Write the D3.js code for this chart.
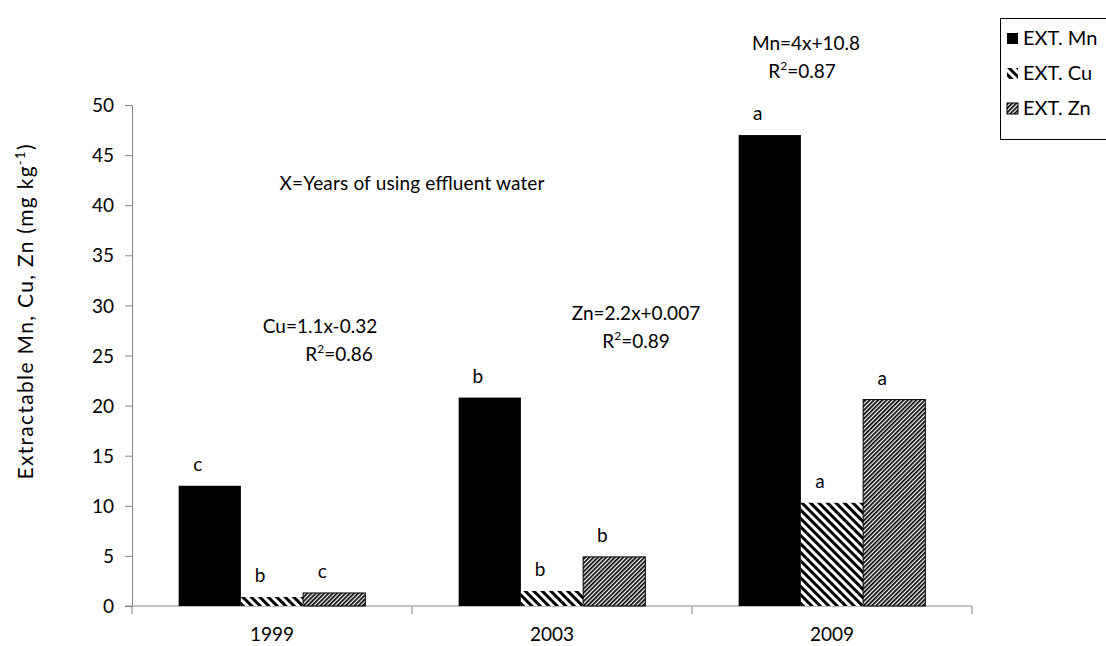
<!DOCTYPE html>
<html><head><meta charset="utf-8">
<script src="https://cdn.jsdelivr.net/npm/d3@7"></script>
<style>body{margin:0;background:#fff}text{font-family:Lato,"Open Sans",sans-serif;fill:#000}</style>
</head><body>
<svg id="c" width="1106" height="646"></svg>
<script>
const years = ["1999","2003","2009"];
const series = ["Mn","Cu","Zn"];
const mnValues = [12, 20.8, 47];
const cuValues = [0.9, 1.5, 10.3];
const znValues = [1.3, 4.9, 20.6];
const mnLetters = ["c","b","a"];
const cuLetters = ["b","b","a"];
const znLetters = ["c","b","a"];
const yTicks = [0,5,10,15,20,25,30,35,40,45,50];
const legendLabels = ["EXT. Mn","EXT.  Cu","EXT. Zn"];

const FS = 19;
const svg = d3.select("#c");
const defs = svg.append("defs");
const pCu = defs.append("pattern").attr("id","pCu").attr("patternUnits","userSpaceOnUse")
  .attr("width",6).attr("height",6).attr("patternTransform","rotate(-45)");
pCu.append("rect").attr("width",6).attr("height",6).attr("fill","#fff");
pCu.append("rect").attr("x",0).attr("width",3).attr("height",6).attr("fill","#000");
const pZn = defs.append("pattern").attr("id","pZn").attr("patternUnits","userSpaceOnUse")
  .attr("width",3).attr("height",3).attr("patternTransform","rotate(45)");
pZn.append("rect").attr("width",3).attr("height",3).attr("fill","#fff");
pZn.append("rect").attr("x",0).attr("width",1.7).attr("height",3).attr("fill","#000");

const fills = {Mn:"#000", Cu:"url(#pCu)", Zn:"url(#pZn)"};
const strokes = {Mn:"none", Cu:"none", Zn:"#000"};

const x0 = d3.scaleBand().domain(years).range([132,972]).paddingInner(0).paddingOuter(0);
const y = d3.scaleLinear().domain([0,50]).range([606,105]);
const bw = x0.bandwidth()/(3+1.5);
const x1 = d3.scaleBand().domain(series).range([0,bw*3]);

const data = [];
years.forEach((yr,i)=>{
  data.push({yr,s:"Mn",v:mnValues[i],l:mnLetters[i]});
  data.push({yr,s:"Cu",v:cuValues[i],l:cuLetters[i]});
  data.push({yr,s:"Zn",v:znValues[i],l:znLetters[i]});
});
const gOff = (x0.bandwidth()-bw*3)/2;

const axisColor = "#868686";
const yAxis = svg.append("g").attr("transform","translate(132,0)")
  .call(d3.axisLeft(y).tickValues(yTicks).tickSize(7).tickSizeOuter(0));
yAxis.select(".domain").attr("stroke",axisColor);
yAxis.selectAll("line").attr("stroke",axisColor);
yAxis.selectAll("text").attr("font-size",FS).attr("x",-18).attr("dy","0.35em").style("font-family","Lato,sans-serif");

const xAxis = svg.append("g").attr("transform","translate(0,606)");
xAxis.append("line").attr("x1",125).attr("x2",972).attr("stroke",axisColor);
const bounds = [132].concat(years.map(yr=>x0(yr)+x0.bandwidth()));
xAxis.selectAll("line.t").data(bounds).enter().append("line")
  .attr("x1",d=>d).attr("x2",d=>d).attr("y1",0).attr("y2",8).attr("stroke",axisColor);
xAxis.selectAll("text").data(years).enter().append("text")
  .attr("x",d=>x0(d)+x0.bandwidth()/2).attr("y",35).attr("text-anchor","middle")
  .attr("font-size",FS).text(d=>d);

svg.selectAll("rect.bar").data(data).enter().append("rect")
  .attr("x",d=>x0(d.yr)+gOff+x1(d.s))
  .attr("y",d=>y(d.v))
  .attr("width",x1.bandwidth())
  .attr("height",d=>y(0)-y(d.v))
  .attr("fill",d=>fills[d.s])
  .attr("stroke",d=>strokes[d.s]).attr("stroke-width",1);

svg.selectAll("text.lt").data(data).enter().append("text")
  .attr("x",d=>x0(d.yr)+gOff+x1(d.s)+x1.bandwidth()/2-12)
  .attr("y",d=>y(d.v)-15)
  .attr("text-anchor","middle").attr("font-size",FS).text(d=>d.l);

function eq(xc, yc, txt, r2, xr){
  svg.append("text").attr("x",xc).attr("y",yc).attr("text-anchor","middle").attr("font-size",FS).text(txt);
  const t = svg.append("text").attr("x",xr).attr("y",yc+28).attr("text-anchor","middle").attr("font-size",FS);
  t.append("tspan").text("R");
  t.append("tspan").attr("font-size",12).attr("dy",-8).text("2");
  t.append("tspan").attr("dy",8).text("="+r2);
}
eq(806, 50, "Mn=4x+10.8", "0.87", 802);
eq(320, 333, "Cu=1.1x-0.32", "0.86", 339);
eq(636, 320, "Zn=2.2x+0.007", "0.89", 636);
svg.append("text").attr("x",412).attr("y",190).attr("text-anchor","middle").attr("font-size",FS)
  .attr("textLength",265).attr("lengthAdjust","spacing")
  .text("X=Years of using effluent water");

const yl = svg.append("text").attr("transform","translate(33,312) rotate(-90)")
  .attr("text-anchor","middle").attr("font-size",21)
  .attr("textLength",335).attr("lengthAdjust","spacing");
yl.append("tspan").text("Extractable Mn, Cu, Zn (mg kg");
yl.append("tspan").attr("font-size",13).attr("dy",-8).text("-1");
yl.append("tspan").attr("dy",8).text(")");

svg.append("rect").attr("x",1000.5).attr("y",18.5).attr("width",120).attr("height",121)
  .attr("fill","#fff").attr("stroke","#000");
const lg = svg.selectAll("g.lg").data(series).enter().append("g")
  .attr("transform",(d,i)=>`translate(1007,${33+i*35})`);
lg.append("rect").attr("width",11).attr("height",11).attr("fill",d=>fills[d])
  .attr("stroke",d=>d==="Zn"?"#000":"none");
lg.append("text").attr("x",16).attr("y",12).attr("font-size",20).text((d,i)=>legendLabels[i]);
</script>
</body></html>
